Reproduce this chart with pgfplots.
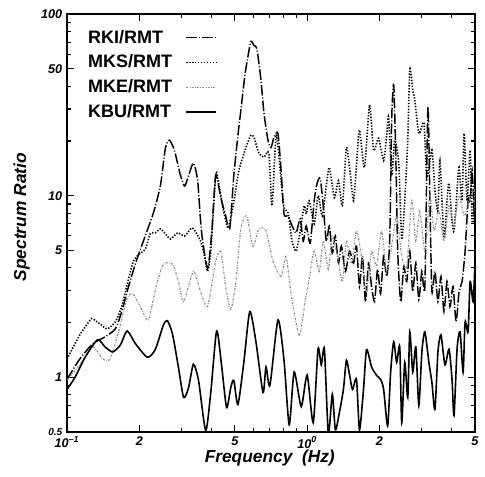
\documentclass[border=0pt]{standalone}
\usepackage{fontspec}
\setmainfont{Liberation Sans}
\usepackage{pgfplots}
\pgfplotsset{compat=1.18}
\begin{document}
\begin{tikzpicture}
\path[use as bounding box] (-50.25pt,-33pt) rectangle (313.5pt,324pt);
\begin{axis}[
  scale only axis, width=306pt, height=313.5pt,
  xmode=log, ymode=log, xmin=0.1, xmax=5, ymin=0.5, ymax=100,
  xtick={0.1,0.2,0.5,1,2,5},
  xticklabels={10\textsuperscript{--1},2,5,10\textsuperscript{0},2,5},
  minor xtick={0.3,0.4,0.6,0.7,0.8,0.9,3,4},
  ytick={0.5,1,5,10,50,100},
  yticklabels={{\fontsize{7.5}{8}\selectfont 0.5},1,5,10,50,100},
  minor ytick={0.6,0.7,0.8,0.9,2,3,4,6,7,8,9,20,30,40,60,70,80,90},
  tick label style={font=\fontsize{9.5}{11}\selectfont\bfseries\itshape},
  axis line style={line width=1pt},
  major tick length=5pt, minor tick length=3pt,
  every tick/.style={black, line width=0.8pt},
  xlabel={Frequency~~(Hz)}, ylabel={Spectrum Ratio},
  every axis x label/.style={at={(axis description cs:0.497,0)}, anchor=center, yshift=-19.5pt,
    font=\fontsize{13}{15}\selectfont\bfseries\itshape},
  every axis y label/.style={at={(axis description cs:0,0.514)}, anchor=center, xshift=-34pt, rotate=90,
    font=\fontsize{13}{15}\selectfont\bfseries\itshape},
  legend style={draw=none, fill=none, at={(axis description cs:0.035,0.975)}, anchor=north west,
    font=\fontsize{13.5}{16}\selectfont\bfseries, row sep=3.3pt, column sep=8pt},
  legend cell align=left,
  legend plot pos=right,
  legend image code/.code={\draw[#1] (0pt,0pt) -- (22.5pt,0pt);},
]
% RKI/RMT
\addplot[black, line width=1.1pt, dash pattern=on 8pt off 1.5pt on 0.8pt off 1.5pt, smooth, tension=0.4] table {
x y
0.100 0.975
0.113 1.26
0.128 1.53
0.144 1.67
0.159 1.85
0.169 2.30
0.178 2.97
0.193 4.25
0.208 5.62
0.229 8.04
0.245 11.4
0.257 18.3
0.267 20.2
0.280 17.8
0.297 12.9
0.309 11.3
0.321 12.9
0.336 15.1
0.350 12.1
0.363 6.40
0.385 3.98
0.401 6.40
0.416 12.9
0.437 9.75
0.458 7.74
0.476 6.57
0.495 12.9
0.515 21.5
0.530 29.7
0.551 46.4
0.567 58.4
0.583 70.8
0.600 67.2
0.618 63.9
0.642 43.5
0.661 28.5
0.687 20.2
0.707 18.4
0.728 21.0
0.756 22.0
0.779 13.8
0.801 7.94
0.833 7.74
0.866 6.81
0.900 6.24
0.936 7.45
0.963 5.62
0.991 6.81
1.030 5.48
1.070 9.38
1.102 11.8
1.134 12.4
1.167 8.80
1.202 5.62
1.237 6.81
1.273 4.82
1.311 6.00
1.350 4.25
1.389 5.28
1.443 3.83
1.501 4.95
1.560 4.25
1.605 5.28
1.652 3.16
1.700 4.64
1.750 2.61
1.801 4.25
1.855 3.16
1.909 2.61
1.965 3.93
2.022 2.89
2.082 4.64
2.143 3.59
2.206 5.62
2.249 26.1
2.293 40.8
2.337 17.8
2.383 4.95
2.453 2.61
2.525 4.08
2.599 3.37
2.675 4.95
2.753 2.97
2.835 4.25
2.918 2.68
3.004 3.83
3.092 3.16
3.183 30.5
3.245 9.38
3.308 2.97
3.405 3.83
3.505 2.61
3.608 3.59
3.714 2.30
3.823 3.37
3.934 2.45
4.050 3.16
4.170 2.02
4.292 2.97
4.418 3.37
4.547 4.95
4.681 9.38
4.772 9.38
4.865 13.8
4.960 8.25
5.000 12.1
};
\addlegendentry{RKI/RMT}
% MKS/RMT
\addplot[black, line width=1.2pt, dash pattern=on 1pt off 1.2pt, smooth, tension=0.4] table {
x y
0.100 1.26
0.113 1.71
0.125 2.07
0.128 2.10
0.137 1.97
0.147 1.85
0.159 2.02
0.169 2.45
0.178 3.24
0.189 4.36
0.202 4.82
0.212 5.08
0.222 6.16
0.233 6.24
0.245 6.57
0.257 6.16
0.270 5.77
0.289 6.24
0.309 6.00
0.333 6.64
0.360 5.62
0.374 4.64
0.385 3.83
0.397 4.95
0.416 12.9
0.424 12.6
0.446 8.58
0.467 6.64
0.481 7.54
0.500 10.0
0.520 13.8
0.556 18.4
0.583 21.5
0.600 21.0
0.630 17.1
0.661 16.3
0.693 17.1
0.714 8.80
0.742 21.5
0.764 16.3
0.779 12.1
0.801 8.58
0.833 8.04
0.866 5.62
0.900 4.95
0.936 6.40
0.972 8.80
0.991 7.94
1.020 9.38
1.070 6.99
1.112 10.0
1.156 7.74
1.202 11.4
1.237 14.3
1.299 9.75
1.350 12.1
1.402 8.80
1.457 18.4
1.515 12.9
1.560 9.38
1.605 14.7
1.652 23.0
1.733 14.3
1.820 31.6
1.891 17.8
1.984 20.7
2.082 15.6
2.143 21.5
2.185 27.1
2.249 12.9
2.315 20.2
2.406 15.1
2.477 5.85
2.549 9.38
2.624 20.2
2.675 49.5
2.753 38.3
2.807 33.7
2.918 22.0
3.063 25.1
3.152 12.6
3.308 17.8
3.405 10.7
3.505 8.25
3.573 15.6
3.714 5.85
3.823 9.38
3.898 11.7
4.011 7.26
4.089 6.40
4.210 10.7
4.292 14.3
4.418 9.38
4.504 22.0
4.636 9.38
4.772 17.8
4.865 7.26
4.960 8.25
5.000 13.8
};
\addlegendentry{MKS/RMT}
% MKE/RMT
\addplot[black!45, line width=0.9pt, dash pattern=on 1.5pt off 1pt on 0.5pt off 1pt, smooth, tension=0.4] table {
x y
0.100 0.962
0.113 1.17
0.128 1.47
0.141 1.26
0.151 1.26
0.164 1.78
0.178 2.71
0.188 2.89
0.202 2.45
0.218 2.07
0.235 3.16
0.252 4.19
0.275 4.19
0.291 3.37
0.306 2.61
0.336 3.83
0.360 2.97
0.385 2.45
0.416 4.36
0.437 4.95
0.458 3.16
0.481 2.36
0.505 3.37
0.530 6.64
0.561 7.74
0.594 5.28
0.630 6.57
0.674 6.40
0.721 4.36
0.779 3.59
0.817 4.64
0.858 2.85
0.927 1.71
0.981 2.61
1.020 3.50
1.070 4.95
1.123 3.83
1.167 5.62
1.225 3.93
1.273 6.00
1.337 4.64
1.402 3.37
1.457 5.62
1.530 4.24
1.605 6.40
1.684 4.64
1.767 2.97
1.855 4.95
1.946 4.08
2.042 6.40
2.143 3.83
2.249 5.28
2.360 7.74
2.477 4.64
2.599 4.08
2.727 9.38
2.835 5.62
2.947 8.25
3.092 4.95
3.245 10.0
3.372 6.40
3.539 8.25
3.714 5.62
3.898 8.80
4.089 6.81
4.292 10.0
4.504 7.74
4.728 9.38
4.960 10.7
5.000 8.25
};
\addlegendentry{MKE/RMT}
% KBU/RMT
\addplot[black, line width=1.2pt, smooth, tension=0.4] table {
x y
0.100 0.858
0.108 1.00
0.119 1.29
0.134 1.61
0.144 1.47
0.155 1.38
0.167 1.51
0.178 1.80
0.193 1.53
0.216 1.29
0.233 1.42
0.252 1.94
0.262 2.05
0.275 1.73
0.291 1.14
0.306 0.774
0.321 0.880
0.336 1.18
0.353 0.962
0.378 0.51
0.397 0.825
0.420 1.80
0.441 1.14
0.462 0.681
0.481 0.880
0.495 0.962
0.515 0.708
0.545 1.21
0.577 2.30
0.612 1.57
0.655 0.825
0.674 1.14
0.700 0.903
0.756 2.07
0.801 1.24
0.842 0.548
0.883 1.07
0.945 0.690
1.00 1.03
1.06 0.562
1.11 1.43
1.145 1.17
1.18 1.43
1.225 0.49
1.273 0.804
1.311 0.514
1.362 0.639
1.416 0.858
1.457 1.24
1.50 1.04
1.545 0.858
1.605 0.975
1.652 0.514
1.717 0.858
1.767 1.42
1.855 1.14
1.946 1.026
2.022 0.975
2.082 0.858
2.164 0.541
2.227 1.07
2.293 1.57
2.360 1.21
2.430 1.47
2.477 0.562
2.549 1.21
2.624 0.774
2.675 1.78
2.753 1.07
2.835 1.47
2.918 0.699
3.004 1.38
3.092 1.78
3.213 1.21
3.308 0.938
3.405 0.664
3.505 1.38
3.608 1.71
3.750 1.17
3.898 1.43
4.011 0.975
4.089 0.615
4.210 1.43
4.333 1.78
4.461 1.07
4.547 2.02
4.681 1.78
4.772 3.37
4.912 2.61
5.000 4.36
};
\addlegendentry{KBU/RMT}
\end{axis}
\end{tikzpicture}
\end{document}
